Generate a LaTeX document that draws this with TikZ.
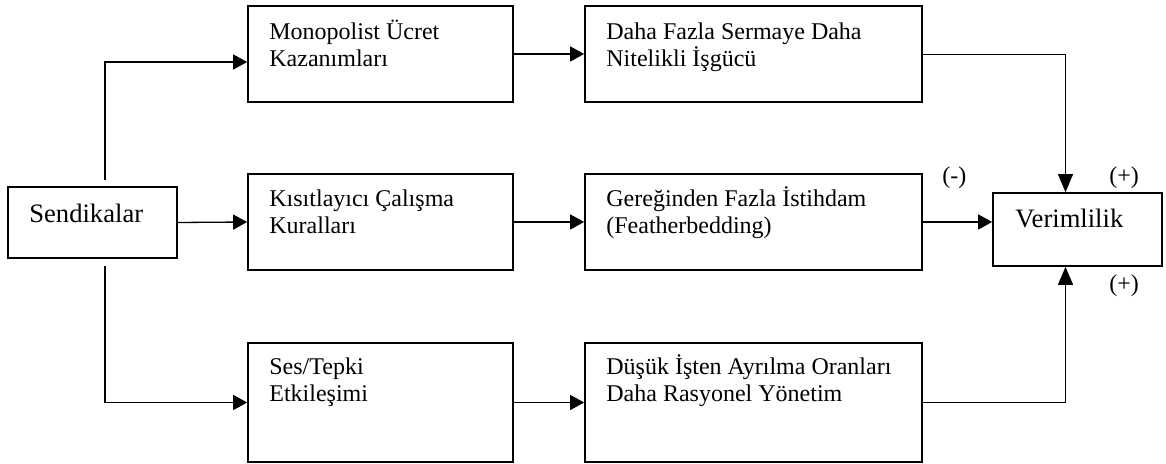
\documentclass[tikz,border=0pt]{standalone}
\usepackage{fontspec}
\setmainfont{Liberation Serif}
\usetikzlibrary{arrows.meta}
% two stacked lines whose baseline is that of the first line
\newcommand\pairlines[2]{\vtop{\hbox{#1}\hbox{#2}}}
\tikzset{
  box/.style={draw, line width=0.85pt, inner sep=0pt},
  txt/.style={anchor=base west, inner sep=0pt, align=left,
              font=\fontsize{12}{13.5}\selectfont},
  bigtxt/.style={anchor=base west, inner sep=0pt,
              font=\fontsize{13.3}{16}\selectfont},
  sign/.style={anchor=base west, inner sep=0pt,
              font=\fontsize{12}{13.5}\selectfont},
  conn/.style={line width=0.65pt, -{Triangle[length=7pt,width=7.5pt]}},
  connv/.style={line width=0.65pt, -{Triangle[length=9pt,width=7.5pt]}},
  thin/.style={line width=0.4pt, -{Triangle[length=9pt,width=7.5pt]}},
}
\begin{document}
\begin{tikzpicture}[x=0.5pt,y=-0.5pt]
\useasboundingbox (0,0) rectangle (1166,464);

% boxes
\node[box, minimum width=84.5pt, minimum height=35.5pt] (S) at (92.5,222.5) {};
\node[box, minimum width=132.5pt, minimum height=48pt] (M) at (380.5,54) {};
\node[box, minimum width=168.5pt, minimum height=48pt] (D) at (753.5,54) {};
\node[box, minimum width=132.5pt, minimum height=48pt] (K) at (380.5,222) {};
\node[box, minimum width=168.5pt, minimum height=48pt] (G) at (753.5,222) {};
\node[box, minimum width=132.5pt, minimum height=59.5pt] (E) at (380.5,402.5) {};
\node[box, minimum width=168.5pt, minimum height=59.5pt] (L) at (753.5,402.5) {};
\node[box, minimum width=84.5pt, minimum height=36.5pt] (V) at (1077.5,229.5) {};

% texts
\node[bigtxt] (tS) at (29,223) {Sendikalar};
\node[txt] (tM) at (269,40) {\pairlines{Monopolist Ücret}{Kazanımları}};
\node[txt] (tD) at (606,40) {\pairlines{Daha Fazla Sermaye Daha}{Nitelikli İşgücü}};
\node[txt] (tK) at (269,207) {\pairlines{Kısıtlayıcı Çalışma}{Kuralları}};
\node[txt] (tG) at (606,207) {\pairlines{Gereğinden Fazla İstihdam}{(Featherbedding)}};
\node[txt] (tE) at (269,374) {\pairlines{Ses/Tepki}{Etkileşimi}};
\node[txt] (tL) at (606,374) {\pairlines{Düşük İşten Ayrılma Oranları}{Daha Rasyonel Yönetim}};
\node[bigtxt] (tV) at (1015,228) {Verimlilik};

% signs
\node[sign] (m1) at (942,184) {(-)};
\node[sign] (p1) at (1109,184) {(+)};
\node[sign] (p2) at (1109,292) {(+)};

% columns of the vertical runs
\coordinate (sx) at (105,0);
\coordinate (vx) at (1065.5,0);

% connectors
\draw[conn, shorten <=3pt] (sx |- S.north) |- ([yshift=-4pt]M.west);
\draw[conn] (S.east) -- (K.west);
\draw[conn, shorten <=3.5pt] (sx |- S.south) |- (E.west);
\draw[conn] (M.east) -- (D.west);
\draw[conn] (K.east) -- (K.east -| G.west);
\draw[conn] (E.east) -- (L.west);
\draw[thin] (D.east) -| (vx |- V.north);
\draw[conn] (G.east) -- (G.east -| V.west);
\draw[connv] (L.east) -| (vx |- V.south);
\end{tikzpicture}
\end{document}
